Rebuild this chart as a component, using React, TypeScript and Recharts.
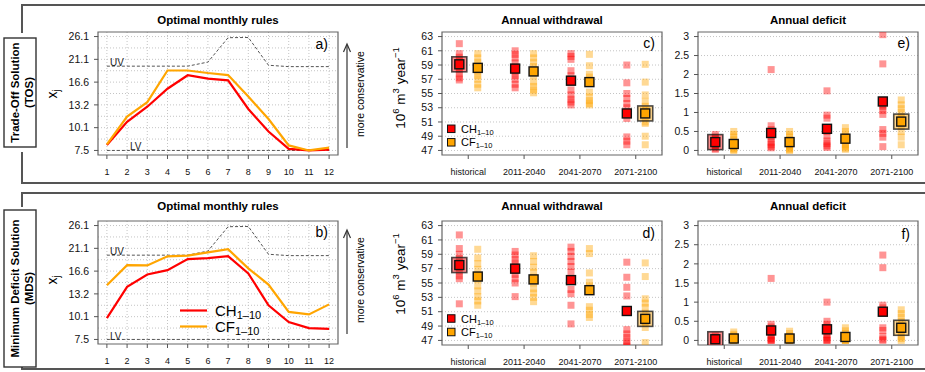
import React from 'react';
import {
  LineChart,
  Line,
  ScatterChart,
  Scatter,
  XAxis,
  YAxis,
  CartesianGrid,
  ReferenceArea,
} from 'recharts';

const FONT = '"Liberation Sans", Arial, Helvetica, sans-serif';
const RED = '#ff0000';
const ORANGE = '#ffa500';

// ---- panels a/b: optimal monthly rules ----
const months = [1, 2, 3, 4, 5, 6, 7, 8, 9, 10, 11, 12];
const xjTickLabels = ['7.5', '10.1', '13.2', '16.6', '21.1', '26.1'];
// values in tick steps of the x_j axis (0 = 7.5 ... 5 = 26.1)
const uvBound = [3.7, 3.7, 3.7, 3.7, 3.7, 3.88, 4.95, 4.96, 3.74, 3.68, 3.68, 3.68];
const lvBound = [0, 0, 0, 0, 0, 0, 0, 0, 0, 0, 0, 0];
const tosRuleCH = [0.24, 1.26, 1.92, 2.71, 3.3, 3.15, 3.08, 1.82, 0.83, 0.07, 0.0, 0.04];
const tosRuleCF = [0.27, 1.49, 2.12, 3.51, 3.51, 3.4, 3.31, 2.37, 1.38, 0.22, 0.0, 0.12];
const mdsRuleCH = [0.94, 2.31, 2.85, 3.04, 3.53, 3.57, 3.66, 2.9, 1.5, 0.76, 0.5, 0.46];
const mdsRuleCF = [2.38, 3.26, 3.25, 3.65, 3.68, 3.82, 3.96, 3.12, 2.41, 1.21, 1.1, 1.54];

// ---- panels c-f: annual withdrawal / deficit ----
const periods = ['historical', '2011-2040', '2041-2070', '2071-2100'];
const withdrawalTicks = [47, 49, 51, 53, 55, 57, 59, 61, 63];
const deficitTicks = [0, 0.5, 1, 1.5, 2, 2.5, 3];

const tosWithdrawalCH = [
  [62.0, 60.6, 60.1, 59.6, 59.2, 58.8, 58.3, 57.8, 57.2, 56.9],
  [61.0, 60.5, 60.0, 59.3, 58.7, 58.0, 57.5, 57.0, 56.3, 55.8],
  [60.6, 60.2, 59.8, 58.2, 57.5, 55.5, 54.8, 54.2, 53.8, 53.4],
  [59.0, 56.5, 55.0, 54.3, 53.6, 53.0, 51.5, 48.9, 48.3, 47.8],
];
const tosWithdrawalCF = [
  [60.6, 60.0, 59.4, 59.0, 58.6, 58.0, 57.5, 57.0, 56.3, 55.8],
  [60.6, 60.0, 59.4, 58.8, 58.2, 57.5, 56.6, 56.0, 55.5, 55.1],
  [60.5, 58.9, 57.7, 57.3, 56.8, 55.2, 54.5, 54.0, 53.6, 53.4],
  [59.1, 56.6, 54.8, 53.9, 53.2, 52.6, 51.0, 50.8, 49.0, 47.8],
];
const tosWithdrawalCHMean = [59.1, 58.5, 56.8, 52.2];
const tosWithdrawalCFMean = [58.6, 58.1, 56.6, 52.2];

const tosDeficitCH = [
  [0.42, 0.35, 0.3, 0.25, 0.22, 0.18, 0.15, 0.1, 0.06, 0.03],
  [2.13, 0.65, 0.55, 0.45, 0.38, 0.3, 0.22, 0.15, 0.1, 0.07],
  [1.57, 0.93, 0.85, 0.6, 0.5, 0.38, 0.25, 0.18, 0.12, 0.08],
  [3.05, 2.28, 1.2, 1.15, 1.05, 0.95, 0.55, 0.45, 0.35, 0.1],
];
const tosDeficitCF = [
  [0.5, 0.42, 0.35, 0.28, 0.22, 0.15, 0.1, 0.05, 0.02, 0.0],
  [0.5, 0.42, 0.35, 0.28, 0.22, 0.15, 0.1, 0.05, 0.02, 0.0],
  [0.6, 0.5, 0.42, 0.35, 0.3, 0.22, 0.15, 0.1, 0.06, 0.03],
  [1.33, 1.2, 1.1, 1.0, 0.9, 0.8, 0.65, 0.5, 0.35, 0.15],
];
const tosDeficitCHMean = [0.22, 0.46, 0.57, 1.29];
const tosDeficitCFMean = [0.17, 0.22, 0.31, 0.76];

const mdsWithdrawalCH = [
  [61.7, 59.8, 59.0, 58.4, 57.8, 57.2, 56.6, 56.0, 55.6, 52.1],
  [59.4, 58.9, 58.3, 57.8, 57.3, 56.7, 56.2, 55.6, 55.0, 53.1],
  [60.0, 59.4, 58.7, 58.0, 57.3, 56.5, 54.1, 53.5, 51.9, 49.3],
  [57.9, 55.8, 54.4, 53.2, 48.5, 47.9, 47.4, 46.9, 46.5, 46.2],
];
const mdsWithdrawalCF = [
  [59.7, 58.5, 57.7, 56.9, 55.5, 54.6, 53.9, 53.1, 52.5, 51.9],
  [58.8, 58.0, 57.2, 56.5, 55.8, 55.0, 54.2, 53.6, 53.0, 52.4],
  [59.8, 59.1, 56.4, 55.1, 54.6, 53.8, 51.7, 51.2, 50.6, 50.2],
  [57.8, 55.9, 52.8, 52.2, 51.6, 50.8, 50.0, 49.4, 48.8, 46.7],
];
const mdsWithdrawalCHMean = [57.5, 57.0, 55.4, 51.1];
const mdsWithdrawalCFMean = [55.9, 55.5, 54.0, 50.0];

const mdsDeficitCH = [
  [0.12, 0.08, 0.06, 0.04, 0.03, 0.02, 0.01, 0.0, 0.0, 0.0],
  [1.62, 0.42, 0.35, 0.28, 0.2, 0.12, 0.05, 0.02, 0.0, 0.0],
  [1.0, 0.5, 0.42, 0.32, 0.22, 0.15, 0.08, 0.03, 0.0, 0.0],
  [2.23, 1.9, 0.92, 0.85, 0.78, 0.33, 0.26, 0.1, 0.03, 0.0],
];
const mdsDeficitCF = [
  [0.22, 0.16, 0.12, 0.08, 0.05, 0.03, 0.02, 0.0, 0.0, 0.0],
  [0.24, 0.18, 0.12, 0.08, 0.05, 0.02, 0.0, 0.0, 0.0, 0.0],
  [0.33, 0.25, 0.18, 0.12, 0.08, 0.05, 0.02, 0.0, 0.0, 0.0],
  [0.8, 0.7, 0.6, 0.5, 0.4, 0.3, 0.2, 0.1, 0.05, 0.0],
];
const mdsDeficitCHMean = [0.03, 0.26, 0.29, 0.75];
const mdsDeficitCFMean = [0.05, 0.05, 0.09, 0.33];

// highlighted (selected) scenarios: CH historical, CF 2071-2100
const highlightCH = 0;
const highlightCF = 3;

// ---- layout helpers ----
type Box = { left: number; top: number; width: number; height: number };
const AXIS_W = 50;
const MT = 6;
const MR = 6;
const XAXIS_H = 30;
const CH_SHIFT = -0.16;
const CF_SHIFT = 0.17;
const X_DOMAIN: [number, number] = [0.53, 4.47];

const pad = (lo: number, hi: number): [number, number] => {
  const d = (hi - lo) * 0.04;
  return [lo - d, hi + d];
};

const tickStyle = (size: number) => ({ fontSize: size, fill: '#111', fontFamily: FONT });

const SmallSquare = (color: string) => (p: any) => (
  <rect x={p.cx - 3.5} y={p.cy - 3.5} width={7} height={7} fill={color} fillOpacity={0.42} />
);
const MeanSquare = (color: string) => (p: any) => (
  <rect x={p.cx - 4.5} y={p.cy - 4.5} width={9} height={9} fill={color} stroke="#111" strokeWidth={1.4} />
);
const BigSquare = (color: string) => (p: any) => (
  <rect
    x={p.cx - 7.5}
    y={p.cy - 7.5}
    width={15}
    height={15}
    fill={color}
    fillOpacity={0.45}
    stroke="#222"
    strokeOpacity={0.8}
    strokeWidth={1.6}
  />
);

interface ScatterPanelProps {
  box: Box;
  ch: number[][];
  cf: number[][];
  chMean: number[];
  cfMean: number[];
  yTicks: number[];
}

const ScatterPanel = ({ box, ch, cf, chMean, cfMean, yTicks }: ScatterPanelProps) => {
  const yDomain = pad(yTicks[0], yTicks[yTicks.length - 1]);
  const chPts = ch.flatMap((vals, i) => vals.map((v) => ({ x: i + 1 + CH_SHIFT, y: v })));
  const cfPts = cf.flatMap((vals, i) => vals.map((v) => ({ x: i + 1 + CF_SHIFT, y: v })));
  const chMeanPts = chMean.map((v, i) => ({ x: i + 1 + CH_SHIFT, y: v }));
  const cfMeanPts = cfMean.map((v, i) => ({ x: i + 1 + CF_SHIFT, y: v }));
  const hiPtsCH = [chMeanPts[highlightCH]];
  const hiPtsCF = [cfMeanPts[highlightCF]];
  const w = AXIS_W + box.width + MR;
  const h = MT + box.height + XAXIS_H;
  return (
    <div style={{ position: 'absolute', left: box.left - AXIS_W, top: box.top - MT }}>
      <ScatterChart width={w} height={h} margin={{ top: MT, right: MR, bottom: 0, left: 0 }}>
        <CartesianGrid vertical={false} horizontalValues={yTicks} stroke="#c4c4c4" strokeDasharray="1 2" />
        <XAxis
          type="number"
          dataKey="x"
          domain={X_DOMAIN}
          ticks={[1, 2, 3, 4]}
          tickFormatter={(v: number) => periods[v - 1]}
          allowDataOverflow
          interval={0}
          axisLine={false}
          tickLine={{ stroke: '#555' }}
          tickSize={4}
          tickMargin={10}
          height={XAXIS_H}
          tick={tickStyle(9)}
        />
        <YAxis
          type="number"
          dataKey="y"
          domain={yDomain}
          ticks={yTicks}
          allowDataOverflow
          interval={0}
          axisLine={false}
          tickLine={{ stroke: '#555' }}
          tickSize={4}
          tickMargin={5}
          width={AXIS_W}
          tick={tickStyle(10.5)}
        />
        <ReferenceArea
          x1={X_DOMAIN[0]}
          x2={X_DOMAIN[1]}
          y1={yDomain[0]}
          y2={yDomain[1]}
          fill="none"
          stroke="#666"
          strokeWidth={1.2}
          ifOverflow="visible"
        />
        <Scatter data={chPts} shape={SmallSquare(RED)} isAnimationActive={false} />
        <Scatter data={cfPts} shape={SmallSquare(ORANGE)} isAnimationActive={false} />
        <Scatter data={hiPtsCH} shape={BigSquare(RED)} isAnimationActive={false} />
        <Scatter data={hiPtsCF} shape={BigSquare(ORANGE)} isAnimationActive={false} />
        <Scatter data={chMeanPts} shape={MeanSquare(RED)} isAnimationActive={false} />
        <Scatter data={cfMeanPts} shape={MeanSquare(ORANGE)} isAnimationActive={false} />
      </ScatterChart>
    </div>
  );
};

const halfSteps = [0, 0.5, 1, 1.5, 2, 2.5, 3, 3.5, 4, 4.5, 5];

const RulesPanel = ({ box, ch, cf }: { box: Box; ch: number[]; cf: number[] }) => {
  const data = months.map((m, i) => ({ month: m, uv: uvBound[i], lv: lvBound[i], ch: ch[i], cf: cf[i] }));
  const yDomain = pad(0, 5);
  const xDomain = pad(1, 12);
  const w = AXIS_W + box.width + MR;
  const h = MT + box.height + XAXIS_H;
  return (
    <div style={{ position: 'absolute', left: box.left - AXIS_W, top: box.top - MT }}>
      <LineChart width={w} height={h} data={data} margin={{ top: MT, right: MR, bottom: 0, left: 0 }}>
        <CartesianGrid horizontalValues={halfSteps} verticalValues={months} stroke="#c4c4c4" strokeDasharray="1 2" />
        <XAxis
          type="number"
          dataKey="month"
          domain={xDomain}
          ticks={months}
          allowDataOverflow
          interval={0}
          axisLine={false}
          tickLine={{ stroke: '#555' }}
          tickSize={4}
          tickMargin={10}
          height={XAXIS_H}
          tick={tickStyle(9)}
        />
        <YAxis
          type="number"
          domain={yDomain}
          ticks={[0, 1, 2, 3, 4, 5]}
          tickFormatter={(v: number) => xjTickLabels[v]}
          allowDataOverflow
          interval={0}
          axisLine={false}
          tickLine={{ stroke: '#555' }}
          tickSize={4}
          tickMargin={5}
          width={AXIS_W}
          tick={tickStyle(10.5)}
        />
        <ReferenceArea
          x1={xDomain[0]}
          x2={xDomain[1]}
          y1={yDomain[0]}
          y2={yDomain[1]}
          fill="none"
          stroke="#666"
          strokeWidth={1.2}
          ifOverflow="visible"
        />
        <Line dataKey="uv" stroke="#555" strokeWidth={1} strokeDasharray="3 2" dot={false} isAnimationActive={false} />
        <Line dataKey="lv" stroke="#555" strokeWidth={1} strokeDasharray="3 2" dot={false} isAnimationActive={false} />
        <Line dataKey="ch" stroke={RED} strokeWidth={2.2} dot={false} isAnimationActive={false} />
        <Line dataKey="cf" stroke={ORANGE} strokeWidth={2.2} dot={false} isAnimationActive={false} />
      </LineChart>
    </div>
  );
};

// ---- annotations (frames, titles, labels) ----
const RowDecor = ({ dy, label1, label2, boxTop, boxH, legendLines }: any) => {
  const rowMid = boxTop + boxH / 2;
  return (
    <g fontFamily={FONT}>
      {/* row label box */}
      <rect x={4} y={boxTop} width={32} height={boxH} fill="#fff" stroke="#333" strokeWidth={1.4} />
      <text transform={`translate(15,${rowMid}) rotate(-90)`} textAnchor="middle" dominantBaseline="central" fontSize={11.5} fontWeight="bold">
        {label1}
      </text>
      <text transform={`translate(29,${rowMid}) rotate(-90)`} textAnchor="middle" dominantBaseline="central" fontSize={11.5} fontWeight="bold">
        {label2}
      </text>
      {/* titles */}
      <text x={218} y={24 + dy} textAnchor="middle" fontSize={11.5} fontWeight="bold">Optimal monthly rules</text>
      <text x={552} y={24 + dy} textAnchor="middle" fontSize={11.5} fontWeight="bold">Annual withdrawal</text>
      <text x={808} y={24 + dy} textAnchor="middle" fontSize={11.5} fontWeight="bold">Annual deficit</text>
      {/* y labels */}
      <text transform={`translate(52,${94 + dy}) rotate(-90)`} textAnchor="middle" dominantBaseline="central" fontSize={14}>
        x<tspan fontSize={10} dy={4}>j</tspan>
      </text>
      <text transform={`translate(400,${88 + dy}) rotate(-90)`} textAnchor="middle" dominantBaseline="central" fontSize={13.5}>
        10<tspan fontSize={9.5} dy={-5}>6</tspan>
        <tspan dy={5}> m</tspan>
        <tspan fontSize={9.5} dy={-5}>3</tspan>
        <tspan dy={5}> year</tspan>
        <tspan fontSize={9.5} dy={-5}>−1</tspan>
      </text>
      {/* more conservative arrow */}
      <line x1={347} y1={148 + dy} x2={347} y2={45 + dy} stroke="#333" strokeWidth={1.2} />
      <path d={`M343.5,${52 + dy} L347,${44 + dy} L350.5,${52 + dy}`} fill="none" stroke="#333" strokeWidth={1.2} />
      <text transform={`translate(360,${94 + dy}) rotate(-90)`} textAnchor="middle" dominantBaseline="central" fontSize={10.5}>
        more conservative
      </text>
      {/* panel letters */}
      {legendLines}
    </g>
  );
};

const Frame = () => (
  <g fill="none" stroke="#555" strokeWidth={2}>
    <path d="M22,33 V5 H925" />
    <path d="M22,152 V183 H925" />
    <path d="M22,207 V193 H925" />
    <path d="M22,367 V369 H925" />
  </g>
);

const SquareLegend = ({ y }: { y: number }) => (
  <g fontFamily={FONT}>
    <rect x={447.5} y={y - 3.75} width={7.5} height={7.5} fill={RED} stroke="#111" strokeWidth={1} />
    <text x={461} y={y} dominantBaseline="central" fontSize={11}>
      CH<tspan fontSize={7.5} dy={3}>1–10</tspan>
    </text>
    <rect x={447.5} y={y + 13.5 - 3.75} width={7.5} height={7.5} fill={ORANGE} stroke="#111" strokeWidth={1} />
    <text x={461} y={y + 13.5} dominantBaseline="central" fontSize={11}>
      CF<tspan fontSize={7.5} dy={3}>1–10</tspan>
    </text>
  </g>
);

const Annotations = () => (
  <svg width={925} height={372} style={{ position: 'absolute', left: 0, top: 0, pointerEvents: 'none' }}>
    <Frame />
    <RowDecor dy={0} label1="Trade-Off Solution" label2="(TOS)" boxTop={38} boxH={109} />
    <RowDecor dy={186} label1="Minimum Deficit Solution" label2="(MDS)" boxTop={210} boxH={157} />
    <g fontFamily={FONT} fontSize={14}>
      <text x={328} y={44} textAnchor="end" dominantBaseline="central">a)</text>
      <text x={328} y={232} textAnchor="end" dominantBaseline="central">b)</text>
      <text x={655} y={43} textAnchor="end" dominantBaseline="central">c)</text>
      <text x={655} y={233} textAnchor="end" dominantBaseline="central">d)</text>
      <text x={910} y={43} textAnchor="end" dominantBaseline="central">e)</text>
      <text x={910} y={234} textAnchor="end" dominantBaseline="central">f)</text>
    </g>
    <g fontFamily={FONT} fontSize={10} fill="#222">
      <text x={110} y={62} dominantBaseline="central">UV</text>
      <text x={130} y={146} dominantBaseline="central">LV</text>
      <text x={110} y={251} dominantBaseline="central">UV</text>
      <text x={110} y={336} dominantBaseline="central">LV</text>
    </g>
    {/* line legend in panel b */}
    <g fontFamily={FONT}>
      <line x1={180} y1={310.5} x2={207} y2={310.5} stroke={RED} strokeWidth={2.2} />
      <text x={215} y={310.5} dominantBaseline="central" fontSize={15}>
        CH<tspan fontSize={11} dy={4}>1–10</tspan>
      </text>
      <line x1={180} y1={326.5} x2={207} y2={326.5} stroke={ORANGE} strokeWidth={2.2} />
      <text x={215} y={326.5} dominantBaseline="central" fontSize={15}>
        CF<tspan fontSize={11} dy={4}>1–10</tspan>
      </text>
    </g>
    <SquareLegend y={128.8} />
    <SquareLegend y={318.5} />
  </svg>
);

const boxA: Box = { left: 98, top: 32, width: 240, height: 123 };
const boxB: Box = { left: 98, top: 221, width: 240, height: 123 };
const boxC: Box = { left: 442, top: 32, width: 220, height: 123 };
const boxD: Box = { left: 442, top: 221, width: 220, height: 124 };
const boxE: Box = { left: 698, top: 32, width: 220, height: 123 };
const boxF: Box = { left: 698, top: 221, width: 220, height: 124 };

export default function App() {
  return (
    <div style={{ position: 'absolute', left: 0, top: 0, width: 925, height: 372, background: '#fff', overflow: 'hidden' }}>
      <RulesPanel box={boxA} ch={tosRuleCH} cf={tosRuleCF} />
      <RulesPanel box={boxB} ch={mdsRuleCH} cf={mdsRuleCF} />
      <ScatterPanel box={boxC} ch={tosWithdrawalCH} cf={tosWithdrawalCF} chMean={tosWithdrawalCHMean} cfMean={tosWithdrawalCFMean} yTicks={withdrawalTicks} />
      <ScatterPanel box={boxD} ch={mdsWithdrawalCH} cf={mdsWithdrawalCF} chMean={mdsWithdrawalCHMean} cfMean={mdsWithdrawalCFMean} yTicks={withdrawalTicks} />
      <ScatterPanel box={boxE} ch={tosDeficitCH} cf={tosDeficitCF} chMean={tosDeficitCHMean} cfMean={tosDeficitCFMean} yTicks={deficitTicks} />
      <ScatterPanel box={boxF} ch={mdsDeficitCH} cf={mdsDeficitCF} chMean={mdsDeficitCHMean} cfMean={mdsDeficitCFMean} yTicks={deficitTicks} />
      <Annotations />
    </div>
  );
}
